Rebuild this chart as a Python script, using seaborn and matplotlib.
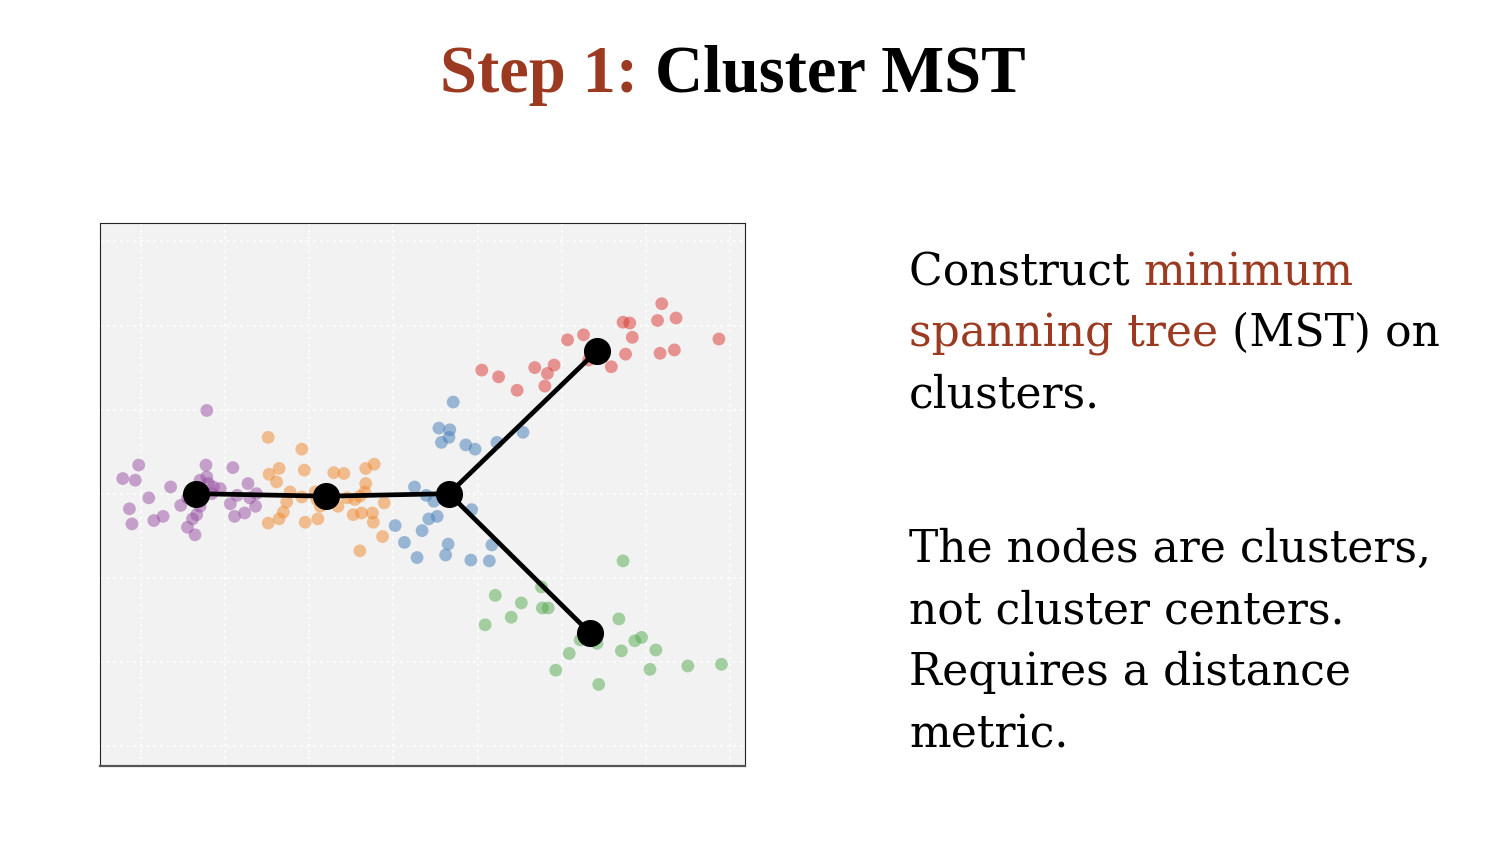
import matplotlib
matplotlib.use("Agg")
import matplotlib.pyplot as plt
import numpy as np
import pandas as pd
import seaborn as sns

# -------------------------------
# DATA (grid units)
# -------------------------------
purple_x = [0.78, -0.03, -0.22, -0.07, 0.09, 0.35, -0.14, -0.11, 0.15, 0.26, 0.47, 0.55,
            0.64, 0.61, 0.66, 0.77, 0.78, 0.70, 0.80, 0.86, 0.94, 0.84, 0.70, 1.09,
            1.27, 1.14, 1.06, 1.11, 1.23, 1.36, 1.37, 1.29, 0.60, 0.55]
purple_y = [3.99, 3.34, 3.18, 3.16, 2.95, 3.08, 2.82, 2.64, 2.68, 2.73, 2.86, 2.60,
            2.51, 2.70, 2.75, 3.34, 3.20, 3.16, 3.12, 3.08, 3.06, 3.00, 2.85, 3.31,
            3.12, 2.98, 2.88, 2.73, 2.77, 2.85, 3.00, 2.95, 3.05, 2.95]

orange_x = [1.51, 1.91, 1.64, 1.94, 1.52, 1.61, 2.29, 2.41, 2.67, 2.77, 2.67, 1.77,
            1.91, 1.73, 2.07, 2.09, 2.13, 2.34, 2.45, 2.54, 2.60, 2.66, 2.89, 1.69,
            1.64, 1.51, 1.95, 2.10, 2.52, 2.62, 2.75, 2.76, 2.87, 2.60, 2.15, 2.25]
orange_y = [3.67, 3.53, 3.30, 3.28, 3.23, 3.14, 3.25, 3.24, 3.30, 3.35, 3.12, 3.02,
            2.96, 2.90, 3.02, 2.93, 2.85, 2.85, 2.95, 2.93, 2.97, 3.02, 2.89, 2.78,
            2.70, 2.65, 2.66, 2.70, 2.75, 2.77, 2.77, 2.66, 2.49, 2.32, 2.98, 2.92]

blue_x = [3.71, 3.54, 3.67, 3.66, 3.57, 3.86, 3.97, 4.23, 4.54, 3.25, 3.39, 3.48,
          3.93, 3.52, 3.42, 3.02, 3.34, 3.13, 3.65, 4.17, 3.28, 3.62, 3.92, 4.14,
          3.60, 3.70]
blue_y = [4.09, 3.78, 3.76, 3.67, 3.61, 3.58, 3.53, 3.61, 3.73, 3.08, 2.98, 2.91,
          2.81, 2.73, 2.70, 2.62, 2.56, 2.42, 2.40, 2.39, 2.24, 2.27, 2.21, 2.20,
          3.00, 2.95]

red_x = [6.19, 5.73, 5.81, 6.14, 6.36, 5.84, 6.87, 5.07, 5.26, 5.76, 6.17, 6.34,
         5.59, 5.32, 4.05, 4.25, 4.47, 4.68, 4.91, 4.83, 4.80, 5.45]
red_y = [5.26, 5.04, 5.03, 5.06, 5.09, 4.86, 4.84, 4.83, 4.89, 4.66, 4.67, 4.71,
         4.51, 4.59, 4.47, 4.39, 4.23, 4.50, 4.53, 4.43, 4.28, 4.70]

green_x = [5.73, 4.76, 4.21, 4.52, 4.77, 4.84, 4.40, 4.09, 5.68, 5.87, 5.95, 6.12,
           5.71, 5.22, 5.42, 5.09, 4.93, 6.05, 6.50, 6.90, 5.44, 5.30]
green_y = [2.20, 1.89, 1.79, 1.70, 1.64, 1.64, 1.53, 1.44, 1.51, 1.25, 1.29, 1.14,
           1.13, 1.26, 1.22, 1.10, 0.90, 0.91, 0.95, 0.97, 0.73, 1.35]

# cluster nodes and MST edges
node_x = [0.65, 2.20, 3.66, 5.42, 5.34]
node_y = [3.00, 2.97, 3.00, 4.70, 1.34]
edges = [(0, 1), (1, 2), (2, 3), (2, 4)]

RUST = "#9b3a21"

# -------------------------------
# FIGURE
# -------------------------------
sns.set_style("white")
fig = plt.figure(figsize=(15.08, 8.66), dpi=100)
ax = fig.add_axes([100 / 1508, 100 / 866, 645 / 1508, 543 / 866])

pts = pd.concat([
    pd.DataFrame({"x": purple_x, "y": purple_y, "cluster": "purple"}),
    pd.DataFrame({"x": orange_x, "y": orange_y, "cluster": "orange"}),
    pd.DataFrame({"x": blue_x, "y": blue_y, "cluster": "blue"}),
    pd.DataFrame({"x": red_x, "y": red_y, "cluster": "red"}),
    pd.DataFrame({"x": green_x, "y": green_y, "cluster": "green"}),
], ignore_index=True)

palette = {"purple": "#984ea3", "orange": "#f0862a", "blue": "#3f7bb8",
           "red": "#d9332f", "green": "#52aa4e"}

sns.scatterplot(data=pts, x="x", y="y", hue="cluster", palette=palette,
                s=85, alpha=0.5, linewidth=0, legend=False, ax=ax, zorder=2)

for a, b in edges:
    ax.plot([node_x[a], node_x[b]], [node_y[a], node_y[b]], color="black",
            lw=3.4, solid_capstyle="round", zorder=3)
sns.scatterplot(x=node_x, y=node_y, color="black", s=380, linewidth=0, ax=ax, zorder=4)

ax.set_facecolor("#f2f2f2")
ax.set_xlim(-0.49, 7.18)
ax.set_ylim(-0.24, 6.22)
ax.set_xticks(range(0, 8))
ax.set_yticks(range(0, 7))
ax.set_xticklabels([])
ax.set_yticklabels([])
ax.tick_params(length=0)
ax.grid(True, color="white", linestyle=(0, (1.5, 2.5)), linewidth=1.2)
ax.set_axisbelow(True)
ax.set_xlabel("")
ax.set_ylabel("")
for side in ["left", "top", "right"]:
    ax.spines[side].set_color("#222222")
    ax.spines[side].set_linewidth(0.8)
ax.spines["bottom"].set_color("#555555")
ax.spines["bottom"].set_linewidth(1.6)

# -------------------------------
# TEXT
# -------------------------------
renderer = fig.canvas.get_renderer()


def write_line(x_px, base_px, parts, **kw):
    x = x_px / 1508
    for txt, col in parts:
        t = fig.text(x, 1 - base_px / 866, txt, color=col, va="baseline", ha="left", **kw)
        bb = t.get_window_extent(renderer=renderer)
        x = bb.x1 / 1508


title_kw = dict(fontsize=48, fontweight="bold", family="Liberation Serif")
write_line(440, 92, [("Step 1: ", RUST), ("Cluster MST", "black")], **title_kw)

body_kw = dict(fontsize=31.7, family="DejaVu Serif")
write_line(909, 285, [("Construct ", "black"), ("minimum", RUST)], **body_kw)
write_line(909, 346, [("spanning tree", RUST), (" (MST) on", "black")], **body_kw)
write_line(909, 408, [("clusters.", "black")], **body_kw)
write_line(909, 562, [("The nodes are clusters,", "black")], **body_kw)
write_line(909, 623, [("not cluster centers.", "black")], **body_kw)
write_line(909, 685, [("Requires a distance", "black")], **body_kw)
write_line(909, 748, [("metric.", "black")], **body_kw)

fig.savefig("out.png", dpi=100)
